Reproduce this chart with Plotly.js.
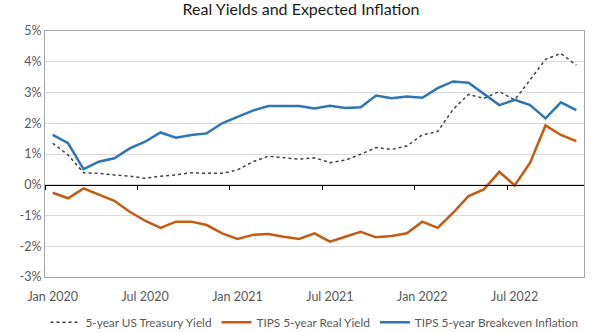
<!DOCTYPE html>
<html>
<head>
<meta charset="utf-8">
<script src="https://cdn.plot.ly/plotly-3.0.1.min.js"></script>
<style>html,body{margin:0;padding:0;background:#fff}#chart{width:602px;height:332px}</style>
</head>
<body>
<div id="chart"></div>
<script>
// Monthly observations, Jan 2020 .. Nov 2022 (index 0..34)
const months = ["Jan 2020","Feb 2020","Mar 2020","Apr 2020","May 2020","Jun 2020","Jul 2020","Aug 2020","Sep 2020","Oct 2020","Nov 2020","Dec 2020",
  "Jan 2021","Feb 2021","Mar 2021","Apr 2021","May 2021","Jun 2021","Jul 2021","Aug 2021","Sep 2021","Oct 2021","Nov 2021","Dec 2021",
  "Jan 2022","Feb 2022","Mar 2022","Apr 2022","May 2022","Jun 2022","Jul 2022","Aug 2022","Sep 2022","Oct 2022","Nov 2022"];
const treasury5y = [1.35,0.97,0.39,0.37,0.32,0.28,0.21,0.28,0.32,0.39,0.37,0.37,
  0.48,0.75,0.93,0.89,0.83,0.88,0.72,0.80,0.99,1.21,1.15,1.26,
  1.62,1.73,2.45,2.94,2.81,3.03,2.76,3.41,4.08,4.27,3.89];
const tipsReal5y = [-0.26,-0.44,-0.12,-0.33,-0.52,-0.88,-1.17,-1.40,-1.20,-1.20,-1.31,-1.58,
  -1.76,-1.63,-1.60,-1.69,-1.76,-1.58,-1.85,-1.69,-1.53,-1.71,-1.67,-1.58,
  -1.20,-1.40,-0.91,-0.37,-0.15,0.42,-0.02,0.72,1.93,1.62,1.42];
const breakeven5y = [1.62,1.35,0.51,0.75,0.86,1.18,1.40,1.70,1.53,1.62,1.67,2.00,
  2.21,2.41,2.56,2.57,2.56,2.48,2.57,2.50,2.52,2.90,2.81,2.87,
  2.83,3.14,3.36,3.32,2.95,2.59,2.76,2.59,2.16,2.68,2.43];
const xLabels = ["Jan 2020","Jul 2020","Jan 2021","Jul 2021","Jan 2022","Jul 2022"];
const yTickVals = [-3,-2,-1,0,1,2,3,4,5];
const yTickText = ["-3%","-2%","-1%","0%","1%","2%","3%","4%","5%"];

const idx = months.map((m,i)=>i);
const labelIdx = xLabels.map(l=>months.indexOf(l));
const boundaryIdx = [];
for (let i=0;i<=months.length;i+=6) boundaryIdx.push(i-0.5);

const font = "Lato, 'Open Sans', sans-serif";
const traces = [
  {x: idx, y: treasury5y, name: "5-year US Treasury Yield", type: "scatter", mode: "lines",
   line: {color: "#404040", width: 1.5, dash: "dot"}},
  {x: idx, y: tipsReal5y, name: "TIPS 5-year Real Yield", type: "scatter", mode: "lines",
   line: {color: "#C55A11", width: 2.5}},
  {x: idx, y: breakeven5y, name: "TIPS 5-year Breakeven Inflation", type: "scatter", mode: "lines",
   line: {color: "#2E75B6", width: 2.5}},
  // carrier for the zero-line axis (tick marks at month-group boundaries)
  {x: idx, y: breakeven5y, xaxis: "x2", yaxis: "y", type: "scatter", mode: "lines",
   line: {width: 0}, opacity: 0, showlegend: false, hoverinfo: "skip"}
];
const xr = [-0.5, months.length - 0.5];
const layout = {
  width: 602, height: 332,
  margin: {l: 45, r: 18, t: 31, b: 55, autoexpand: false},
  paper_bgcolor: "#fff", plot_bgcolor: "#fff",
  title: {text: "Real Yields and Expected Inflation", x: 0.5, xanchor: "center", y: 0.99, yanchor: "top",
          font: {family: font, size: 16, color: "#1a1a1a"}},
  font: {family: font, size: 12, color: "#595959"},
  showlegend: true,
  legend: {orientation: "h", x: 0.5, xanchor: "center", y: -0.125, yanchor: "top",
           font: {family: font, size: 11.8, color: "#595959"}, traceorder: "normal",
           itemwidth: 30, tracegroupgap: 0},
  xaxis: {range: xr, tickmode: "array", tickvals: labelIdx, ticktext: xLabels, ticks: "",
          ticklabelstandoff: 8,
          showgrid: false, zeroline: false, showline: true, mirror: true, linecolor: "#a6a6a6", linewidth: 1,
          tickfont: {family: font, size: 12.5, color: "#595959"}, fixedrange: true},
  xaxis2: {range: xr, overlaying: "x", anchor: "free", position: 0.375, side: "bottom",
           tickmode: "array", tickvals: boundaryIdx, ticks: "outside", ticklen: 4, tickcolor: "#000",
           showticklabels: false, showgrid: false, zeroline: false, showline: true, linecolor: "#000", linewidth: 1.2},
  yaxis: {range: [-3, 5], tickmode: "array", tickvals: yTickVals, ticktext: yTickText, ticks: "",
          showgrid: true, gridcolor: "#d9d9d9", gridwidth: 1, zeroline: false,
          showline: true, mirror: true, linecolor: "#a6a6a6", linewidth: 1,
          tickfont: {family: font, size: 12.5, color: "#595959"}, fixedrange: true}
};
Plotly.newPlot("chart", traces, layout, {staticPlot: true, displayModeBar: false});
</script>
</body>
</html>
